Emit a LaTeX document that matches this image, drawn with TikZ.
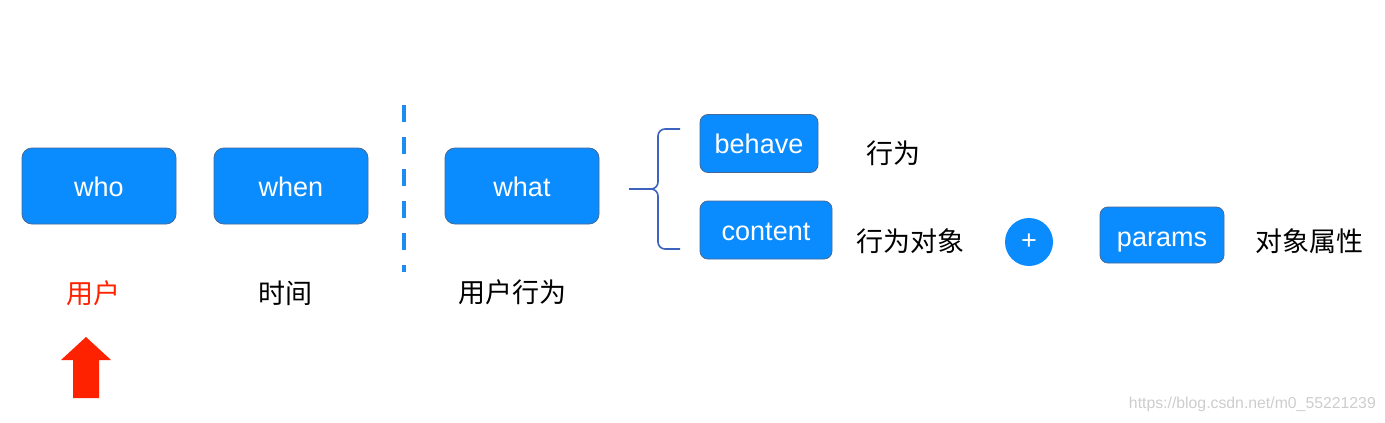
\documentclass[tikz,border=0pt]{standalone}
\usepackage{fontspec}
\setmainfont{Liberation Sans}
\newfontfamily\cjk{Noto Sans CJK SC}
\definecolor{boxblue}{RGB}{10,140,255}
\definecolor{boxedge}{RGB}{70,105,150}
\definecolor{bracecol}{RGB}{60,100,190}
\definecolor{dashcol}{RGB}{30,140,240}
\definecolor{arrowred}{RGB}{255,34,0}
\definecolor{wmgray}{RGB}{205,205,205}
\begin{document}
\begin{tikzpicture}[x=1pt,y=-1pt,
  box/.style={draw=boxedge, line width=0.8pt, fill=boxblue, rounded corners=10pt, text=white,
    font=\fontsize{27}{30}\selectfont, inner sep=0pt, text height=20.5pt, text depth=0pt},
  bigbox/.style={box, minimum width=154pt, minimum height=76pt},
  lbl/.style={font=\cjk\fontsize{27}{30}\selectfont, text=black, inner sep=0pt},
  bracestyle/.style={draw=bracecol, line width=1.6pt, rounded corners=7pt}]
\useasboundingbox (0,0) rectangle (1385,423);
% big boxes
\node[bigbox] (who) at (99,186) {who};
\node[bigbox] (when) at (291,186) {when};
\node[bigbox] (what) at (522,186) {what};
% small boxes
\node[box, rounded corners=8pt, minimum width=118pt, minimum height=58pt] (behave) at (759,143.5) {behave};
\node[box, rounded corners=8pt, minimum width=132pt, minimum height=58pt] (content) at (766,230) {content};
\node[box, rounded corners=8pt, minimum width=124pt, minimum height=56pt, text height=23pt] (params) at (1162,235) {params};
% plus circle
\node[circle, fill=boxblue, minimum size=48pt, inner sep=0pt, text=white, font=\fontsize{27}{30}\selectfont] (plus) at (1029,242) {+};
% dashed separator
\coordinate (dtop) at (404,105);
\coordinate (dbot) at (404,272);
\draw[dashcol, line width=3.5pt, dash pattern=on 17pt off 15pt] (dtop) -- (dbot);
% brace
\coordinate (btop) at (680,129);
\coordinate (bbot) at (680,249);
\coordinate (bmid) at (658,189);
\coordinate (bstub) at (629,189);
\draw[bracestyle] (btop) -- (658,129) -- (bmid) -- (bstub);
\draw[bracestyle] (bbot) -- (658,249) -- (bmid) -- (bstub);
% labels
\node[lbl, text=arrowred] (l1) at (93,293) {用户};
\node[lbl] (l2) at (285,293) {时间};
\node[lbl] (l3) at (512,292) {用户行为};
\node[lbl] (l4) at (893,153) {行为};
\node[lbl] (l5) at (910,241) {行为对象};
\node[lbl] (l6) at (1309,241) {对象属性};
% red arrow
\fill[arrowred] (73,398) -- (73,360) -- (61,360) -- (86,337) -- (111,360) -- (99,360) -- (99,398) -- cycle;
% watermark
\node[anchor=east, text=wmgray, font=\fontsize{15.8}{18}\selectfont, inner sep=0pt] (wm) at (1376,404) {https://blog.csdn.net/m0\_55221239};
\end{tikzpicture}
\end{document}
